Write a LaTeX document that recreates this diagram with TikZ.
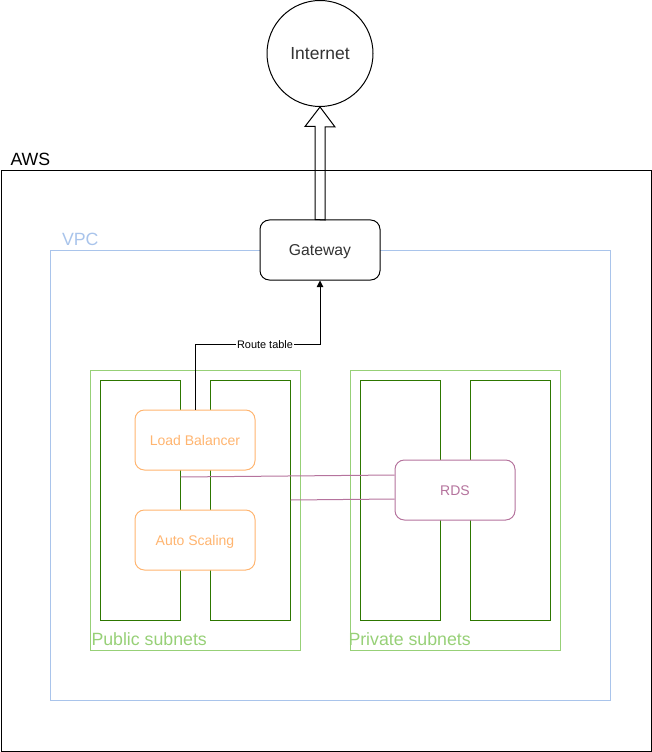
\documentclass[tikz,border=0pt]{standalone}
\usepackage{fontspec}
\setmainfont{Liberation Sans}
\usetikzlibrary{positioning,calc,arrows.meta}
\definecolor{vpcblue}{HTML}{A9C4EB}
\definecolor{subgreen}{HTML}{97D077}
\definecolor{darkgreen}{HTML}{2D7600}
\definecolor{lborange}{HTML}{FFB570}
\definecolor{rdspurple}{HTML}{B5739D}

\begin{document}
\begin{tikzpicture}[x=0.75pt, y=-0.75pt, line width=0.75pt, >={Triangle[length=5pt, width=5pt]},
    box/.style={rectangle, draw, fill=white, rounded corners=7pt, minimum width=90pt, minimum height=45pt, text depth=0pt},
    boxfont/.style={font=\fontsize{10.5}{13}\selectfont, text height=7.5pt},
    group/.style={rectangle, draw=subgreen, minimum width=157.5pt, minimum height=210pt},
    subnet/.style={rectangle, draw=darkgreen, minimum width=60pt, minimum height=180pt},
    grouplabel/.style={anchor=base west, inner sep=0pt, font=\fontsize{13.3}{16}\selectfont},
    rdsline/.style={draw=rdspurple}]
    \useasboundingbox (0,0) rectangle (651,752);
    % Kontenery
    \node (internet) [circle, draw, minimum size=79.5pt, inner sep=0pt, text=black!80, text height=9.4pt, text depth=0pt, font=\fontsize{13.1}{16}\selectfont] at (320,53.5) {Internet};
    \node (aws) [rectangle, draw, minimum width=487.5pt, minimum height=435pt, anchor=north west] at (0.5,170.5) {};
    \node (vpc) [rectangle, draw=vpcblue, minimum width=420pt, minimum height=337.5pt] at (330,475) {};
    \node (public) [group] at (195,510) {};
    \node (private) [group] at (455,510) {};
    \node (public1) [subnet] at (140,500) {};
    \node (public2) [subnet] at (250,500) {};
    \node (private1) [subnet] at (400,500) {};
    \node (private2) [subnet] at (510,500) {};
    % Opisy
    \node [grouplabel] at ($(aws.north west)+(9.5,-4.5)$) {AWS};
    \node [grouplabel, text=vpcblue] at ($(vpc.north west)+(12,-4)$) {VPC};
    \node [grouplabel, text=subgreen] at ($(public.south west)+(1.5,-5.5)$) {Public subnets};
    \node [grouplabel, text=subgreen] at ($(private.south west)+(-1.5,-5.5)$) {Private subnets};
    % Usługi
    \node (gateway) [box, text=black!80, text height=8.45pt, font=\fontsize{11.8}{14}\selectfont] at (320,250) {Gateway};
    \node (lb) [box, boxfont, draw=lborange, text=lborange] at (195,440) {Load Balancer};
    \node (autoscaling) [box, boxfont, draw=lborange, text=lborange] at (195,540) {Auto Scaling};
    \node (rds) [box, boxfont, draw=rdspurple, text=rdspurple] at (455,490) {RDS};

    % Strzałki
    \draw (gateway.north) ++(-5,0) -- ++(0,-93) -- ++(-10,0) -- (internet.south) -- ++(15,20) -- ++(-10,0) -- ++(0,93) -- cycle;
    \draw[->] (lb.north) -- ++(0,-65) -| node[pos=0.28, fill=white, inner sep=1pt, font=\fontsize{8.2}{10}\selectfont] {Route table} (gateway.south);
    \draw[rdsline] ($(public1.east)+(0,-23)$) -- ($(rds.west)+(0,-15)$);
    \draw[rdsline] (public2.east) -- ($(rds.west)+(0,9)$);
\end{tikzpicture}
\end{document}
